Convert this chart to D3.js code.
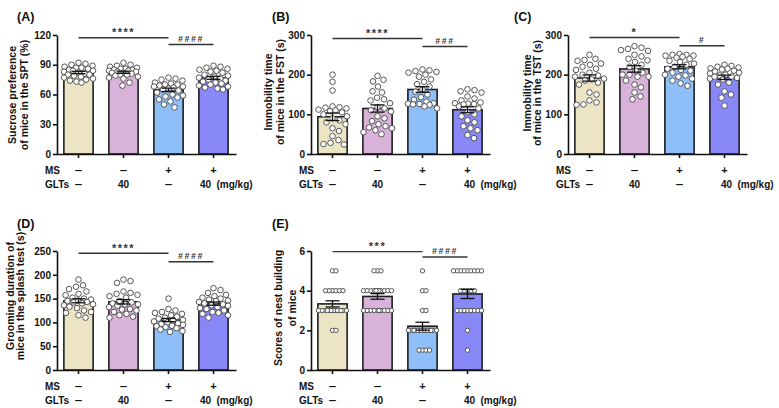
<!DOCTYPE html>
<html>
<head>
<meta charset="utf-8">
<script src="https://cdn.jsdelivr.net/npm/d3@7"></script>
<style>
  body { margin: 0; background: #fff; }
  svg { display: block; font-family: "Liberation Sans", Arial, sans-serif; font-weight: bold; }
</style>
</head>
<body>
<div id="chart"></div>
<script>
// groups: MS-/vehicle, MS-/GLTs 40, MS+/vehicle, MS+/GLTs 40
const msSigns = ["–", "–", "+", "+"];
const gltsDoses = ["–", "40", "–", "40"];

// sucrose preference (%)
const sptValues = [
  [92, 91, 90, 89, 88, 87, 87, 86, 85, 84, 84, 83, 82, 81, 80, 80, 79, 78, 77, 76, 75, 74, 73, 72],
  [92, 90, 89, 88, 87, 86, 86, 85, 85, 84, 84, 83, 83, 82, 82, 81, 80, 80, 79, 78, 77, 76, 72, 69],
  [77, 76, 75, 74, 72, 71, 70, 70, 69, 68, 68, 67, 66, 65, 64, 62, 60, 59, 58, 57, 55, 53, 50, 47],
  [89, 88, 87, 86, 85, 84, 83, 82, 80, 79, 78, 77, 76, 75, 74, 73, 72, 71, 70, 69, 68, 67, 66, 65]
];
// immobility time FST (s)
const fstValues = [
  [200, 182, 160, 120, 118, 117, 115, 112, 110, 108, 105, 100, 95, 90, 85, 80, 75, 65, 58, 45, 35, 28, 25, 24],
  [197, 187, 183, 170, 158, 155, 142, 138, 135, 128, 118, 115, 110, 107, 95, 90, 83, 75, 70, 67, 65, 60, 55, 50],
  [213, 211, 209, 207, 205, 200, 195, 188, 182, 176, 170, 163, 157, 150, 143, 137, 132, 128, 127, 126, 125, 124, 120, 115],
  [163, 161, 158, 155, 145, 140, 135, 130, 128, 127, 126, 125, 120, 115, 105, 100, 95, 85, 80, 70, 65, 60, 48, 40]
];
// immobility time TST (s)
const tstValues = [
  [250, 240, 237, 235, 228, 225, 220, 215, 212, 205, 200, 198, 195, 190, 188, 185, 180, 175, 155, 150, 135, 130, 125, 124],
  [272, 268, 265, 262, 260, 250, 246, 240, 236, 232, 225, 220, 210, 205, 200, 195, 200, 195, 185, 175, 168, 155, 145, 138],
  [250, 248, 252, 250, 248, 245, 243, 240, 235, 232, 228, 225, 220, 215, 212, 210, 205, 200, 198, 195, 190, 185, 178, 172],
  [225, 222, 220, 218, 216, 215, 213, 210, 208, 205, 203, 200, 198, 195, 190, 195, 192, 188, 180, 175, 158, 150, 142, 122]
];
// grooming duration splash test (s)
const splashValues = [
  [190, 178, 175, 170, 165, 160, 157, 152, 150, 148, 146, 145, 143, 142, 140, 138, 136, 133, 130, 125, 122, 120, 115, 110],
  [190, 187, 183, 165, 160, 155, 162, 158, 152, 140, 138, 145, 142, 138, 135, 132, 128, 127, 125, 122, 118, 115, 112, 110],
  [150, 128, 125, 122, 120, 118, 115, 112, 110, 108, 105, 104, 102, 100, 98, 97, 95, 93, 92, 90, 88, 85, 82, 80],
  [172, 168, 162, 158, 155, 152, 150, 148, 146, 145, 143, 140, 138, 136, 135, 132, 130, 128, 125, 122, 120, 118, 115, 110]
];
// nest building scores
const nestValues = [
  [5, 5, 4, 4, 4, 4, 4, 4, 3, 3, 3, 3, 3, 3, 3, 3, 3, 3, 3, 3, 3, 3, 2, 2],
  [5, 5, 5, 4, 4, 4, 4, 4, 4, 4, 4, 4, 4, 4, 3, 3, 3, 3, 3, 3, 3, 3, 3, 3],
  [5, 4, 4, 3, 3, 2, 2, 2, 2, 2, 2, 2, 2, 2, 2, 2, 2, 2, 2, 2, 1, 1, 1, 1],
  [5, 5, 5, 5, 5, 5, 5, 5, 5, 4, 4, 4, 4, 4, 3, 3, 3, 3, 3, 3, 3, 3, 2, 1]
];

const sptTicks = [0, 30, 60, 90, 120];
const fstTicks = [0, 100, 200, 300];
const tstTicks = [0, 100, 200, 300];
const splashTicks = [0, 50, 100, 150, 200, 250];
const nestTicks = [0, 2, 4, 6];

const sigStars = ["****", "****", "*", "****", "***"];
const sigHashes = ["####", "###", "#", "####", "####"];

const barColors = ["#ebe5c6", "#d9b2d9", "#8fbff8", "#8888f8"];

const width = 779, height = 408;

const panels = [
  { tag: "(A)", values: sptValues, ticks: sptTicks, label: ["Sucrose preference", "of mice in the SPT (%)"],
    x0: 57, top: 35, bottom: 154, tagX: 17, tagY: 21, labX: [-45, -33], labY: 95, sigY: [117.3, 110.4], mgOff: -8, minD: 7, r: 2.8 },
  { tag: "(B)", values: fstValues, ticks: fstTicks, label: ["Immobility time", "of mice in the FST (s)"],
    x0: 311, top: 35, bottom: 154, tagX: 272, tagY: 21, labX: [-43, -31], labY: 92, sigY: [291, 271], mgOff: 2, minD: 7, r: 2.8 },
  { tag: "(C)", values: tstValues, ticks: tstTicks, label: ["Immobility time", "of mice in the TST (s)"],
    x0: 568, top: 35, bottom: 154, tagX: 514, tagY: 21, labX: [-41, -31], labY: 93, sigY: [293.7, 273], mgOff: 2, minD: 7, r: 2.8 },
  { tag: "(D)", values: splashValues, ticks: splashTicks, label: ["Grooming duration of", "mice in the splash test (s)"],
    x0: 57, top: 251, bottom: 370, tagX: 17, tagY: 228, labX: [-47, -37], labY: 296, sigY: [245.2, 227.5], mgOff: -8, minD: 7, r: 2.8 },
  { tag: "(E)", values: nestValues, ticks: nestTicks, label: ["Scores of nest building", "of mice"],
    x0: 311, top: 251, bottom: 370, tagX: 272, tagY: 228, labX: [-33, -19], labY: 308, sigY: [5.97, 5.7], mgOff: 2, minD: 3.4, r: 2.2 }
];

const svg = d3.select("#chart")
  .append("svg")
  .attr("width", width)
  .attr("height", height);

// simple beeswarm: spread points sideways so circles do not pile up
function dodge(vals, y, minD, maxHalf) {
  const placed = [];
  const out = new Array(vals.length);
  const cands = [0];
  for (let s = 0.5; s <= maxHalf; s += 0.5) { cands.push(s, -s); }
  vals.map((v, i) => i)
    .sort((a, b) => vals[b] - vals[a])
    .forEach(i => {
      const py = y(vals[i]);
      let best = 0, bestD = -1;
      for (const c of cands) {
        let m = Infinity;
        for (const p of placed) m = Math.min(m, Math.hypot(p[0] - c, p[1] - py));
        if (m >= minD) { best = c; bestD = m; break; }
        if (m > bestD) { bestD = m; best = c; }
      }
      placed.push([best, py]);
      out[i] = best;
    });
  return out;
}

panels.forEach((p, pi) => {
  const g = svg.append("g");
  const ymax = d3.max(p.ticks);

  const x = d3.scaleBand()
    .domain(d3.range(4))
    .range([p.x0 - 1, p.x0 + 179])
    .paddingInner(0.35)
    .paddingOuter(0.175);

  const y = d3.scaleLinear()
    .domain([0, ymax])
    .range([p.bottom, p.top]);

  const stats = p.values.map(v => {
    const m = d3.mean(v);
    return { mean: m, sem: d3.deviation(v) / Math.sqrt(v.length) };
  });

  // bars
  g.selectAll("rect.bar")
    .data(stats)
    .join("rect")
      .attr("class", "bar")
      .attr("x", (d, i) => x(i))
      .attr("y", d => y(d.mean))
      .attr("width", x.bandwidth())
      .attr("height", d => y(0) - y(d.mean))
      .attr("fill", (d, i) => barColors[i])
      .attr("stroke", "#1e1e1e")
      .attr("stroke-width", 1.6);

  // dots
  p.values.forEach((vals, i) => {
    const cx = x(i) + x.bandwidth() / 2;
    const offs = dodge(vals, y, p.minD, x.bandwidth() / 2);
    g.append("g").selectAll("circle")
      .data(vals)
      .join("circle")
        .attr("cx", (d, j) => cx + offs[j])
        .attr("cy", d => y(d))
        .attr("r", p.r)
        .attr("fill", "#fff")
        .attr("stroke", "#444")
        .attr("stroke-width", 0.9);
  });

  // error bars (mean +/- SEM)
  const eb = g.append("g").attr("stroke", "#111").attr("stroke-width", 1.3);
  stats.forEach((d, i) => {
    const cx = x(i) + x.bandwidth() / 2;
    eb.append("line").attr("x1", cx).attr("x2", cx)
      .attr("y1", y(d.mean - d.sem)).attr("y2", y(d.mean + d.sem));
    [d.mean - d.sem, d.mean + d.sem].forEach(v => {
      eb.append("line").attr("x1", cx - 7).attr("x2", cx + 7)
        .attr("y1", y(v)).attr("y2", y(v));
    });
  });

  // axes
  const yAxis = g.append("g")
    .attr("transform", `translate(${p.x0},0)`)
    .call(d3.axisLeft(y).tickValues(p.ticks).tickFormat(d3.format("d"))
      .tickSize(4).tickSizeOuter(0).tickPadding(2));
  const xAxis = g.append("g")
    .attr("transform", `translate(0,${p.bottom})`)
    .call(d3.axisBottom(x).tickSize(4).tickSizeOuter(0).tickFormat(() => ""));
  [yAxis, xAxis].forEach(a => {
    a.attr("font-family", null).attr("font-size", null);
    a.selectAll("path, line").attr("stroke", "#111").attr("stroke-width", 1.6);
    a.selectAll("text").attr("font-size", "10px").attr("font-weight", "bold").attr("fill", "#111");
  });

  // y axis title
  p.label.forEach((line, k) => {
    g.append("text")
      .attr("transform", `translate(${p.x0 + p.labX[k]},${p.labY}) rotate(-90)`)
      .attr("text-anchor", "middle")
      .attr("dominant-baseline", "central")
      .attr("font-size", "10.5px")
      .attr("fill", "#111")
      .text(line);
  });

  // panel tag
  g.append("text")
    .attr("x", p.tagX).attr("y", p.tagY)
    .attr("font-size", "12.5px")
    .attr("fill", "#111")
    .text(p.tag);

  // treatment rows
  const rowY = [p.bottom + 16, p.bottom + 30];
  [["MS", msSigns], ["GLTs", gltsDoses]].forEach(([name, arr], k) => {
    g.append("text")
      .attr("x", p.x0 - 12).attr("y", rowY[k] + 3.5)
      .attr("font-size", "10px").attr("fill", "#111")
      .text(name);
    arr.forEach((s, i) => {
      const cx = x(i) + x.bandwidth() / 2 + (k === 1 && i === 3 ? p.mgOff : 0);
      const sx = s === "–" ? 1.35 : 1;
      g.append("text")
        .attr("transform", `translate(${cx},${rowY[k] + 3.5}) scale(${sx},1)`)
        .attr("text-anchor", "middle")
        .attr("font-size", s === "+" ? "11px" : "10px").attr("fill", "#111")
        .text(s);
    });
  });
  g.append("text")
    .attr("x", x(3) + x.bandwidth() / 2 + p.mgOff + 11).attr("y", rowY[1] + 3.5)
    .attr("font-size", "10px").attr("fill", "#111")
    .text("(mg/kg)");

  // significance brackets
  const sig = [[0, 2, sigStars[pi]], [2, 3, sigHashes[pi]]];
  sig.forEach(([a, b, txt], k) => {
    const x1 = x(a) + x.bandwidth() / 2, x2 = x(b) + x.bandwidth() / 2;
    const yy = y(p.sigY[k]);
    g.append("line")
      .attr("x1", x1).attr("x2", x2).attr("y1", yy).attr("y2", yy)
      .attr("stroke", "#333").attr("stroke-width", 1.4);
    g.append("text")
      .attr("x", (x1 + x2) / 2).attr("y", yy - (k === 0 ? 1.5 : 2.5))
      .attr("text-anchor", "middle")
      .attr("font-size", k === 0 ? "11px" : "8.5px")
      .attr("letter-spacing", k === 0 ? "1.5px" : "1.8px")
      .attr("font-style", k === 0 ? "normal" : "italic")
      .attr("fill", "#333")
      .text(txt);
  });
});
</script>
</body>
</html>
